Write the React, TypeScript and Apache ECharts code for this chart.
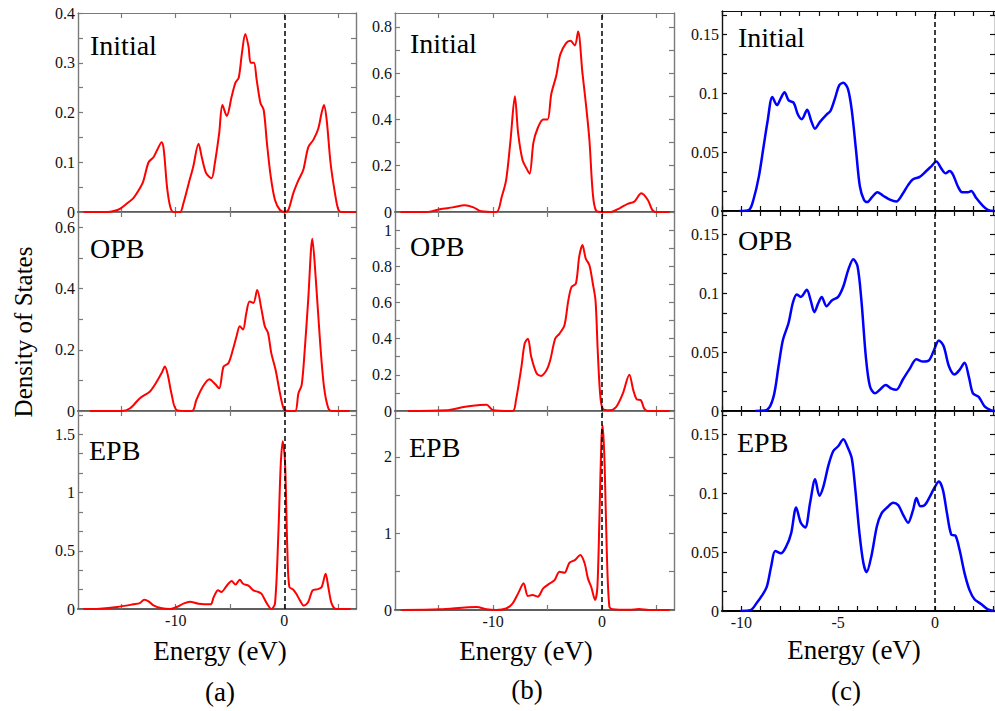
import React, { useEffect, useRef } from "react";
import * as echarts from "echarts";

const FONT = "Liberation Serif";

// ---------- data: [energy (eV), DOS] ----------
const aInitial = [[-18.5,0],[-16.3,0],[-15.7,0.002],[-15.1,0.007],[-14.5,0.017],[-13.9,0.028],[-13.4,0.044],[-13.0,0.061],[-12.5,0.1],[-12.05,0.11],[-11.7,0.125],[-11.3,0.14],[-11.1,0.125],[-10.8,0.05],[-10.5,0.01],[-10.2,0],[-9.6,0],[-9.3,0.017],[-8.8,0.058],[-8.4,0.09],[-7.9,0.137],[-7.6,0.11],[-7.2,0.078],[-6.7,0.068],[-6.4,0.098],[-6.0,0.158],[-5.7,0.215],[-5.3,0.193],[-4.85,0.232],[-4.5,0.26],[-4.2,0.27],[-3.9,0.32],[-3.6,0.358],[-3.3,0.333],[-3.1,0.3],[-2.8,0.3],[-2.55,0.266],[-2.2,0.219],[-1.9,0.205],[-1.6,0.138],[-1.25,0.071],[-0.86,0.024],[-0.4,0.004],[0.06,0],[0.37,0.004],[0.83,0.038],[1.3,0.064],[1.75,0.085],[2.2,0.13],[2.67,0.145],[3.13,0.168],[3.44,0.2],[3.65,0.215],[3.9,0.185],[4.26,0.098],[4.66,0.038],[4.97,0.005],[5.3,0],[6.6,0]];
const aOPB = [[-17.9,0],[-15,0],[-14.2,0.009],[-13.3,0.042],[-12.4,0.063],[-11.8,0.093],[-11.3,0.124],[-11.0,0.145],[-10.7,0.113],[-10.4,0.058],[-9.9,0.003],[-8.5,0],[-8.1,0.036],[-7.5,0.08],[-6.9,0.104],[-6.4,0.089],[-6.0,0.074],[-5.6,0.145],[-5.15,0.156],[-4.7,0.205],[-4.4,0.244],[-4.1,0.277],[-3.8,0.266],[-3.5,0.32],[-3.2,0.358],[-2.85,0.353],[-2.5,0.395],[-2.1,0.331],[-1.8,0.277],[-1.5,0.255],[-1.2,0.189],[-0.8,0.134],[-0.4,0.058],[-0.03,0.005],[0.37,0],[1.0,0],[1.3,0.058],[1.6,0.085],[1.9,0.21],[2.2,0.364],[2.58,0.563],[2.9,0.43],[3.3,0.222],[3.65,0.08],[4.05,0.009],[4.36,0],[6.0,0]];
const aEPB = [[-18.5,0],[-17.0,0.003],[-15.4,0.017],[-13.9,0.04],[-13.3,0.051],[-12.9,0.08],[-12.5,0.066],[-12.05,0.031],[-11.4,0.009],[-10.5,0],[-9.9,0.017],[-9.3,0.046],[-8.7,0.063],[-7.9,0.046],[-6.8,0.04],[-6.5,0.103],[-6.1,0.16],[-5.8,0.146],[-5.3,0.2],[-4.85,0.24],[-4.5,0.21],[-4.1,0.251],[-3.8,0.217],[-3.3,0.2],[-2.85,0.16],[-2.4,0.146],[-2.1,0.131],[-1.6,0.046],[-1.2,0],[-0.86,0.046],[-0.55,0.646],[-0.34,1.22],[-0.15,1.44],[0.06,1.27],[0.28,0.5],[0.46,0.19],[0.83,0.166],[1.1,0.131],[1.44,0.074],[1.8,0.029],[2.2,0.06],[2.6,0.16],[3.1,0.171],[3.44,0.189],[3.8,0.303],[4.05,0.189],[4.36,0.046],[4.8,0],[6.1,0]];

const bInitial = [[-18.5,0],[-16.1,0],[-14.9,0.012],[-13.7,0.02],[-12.6,0.029],[-11.8,0.02],[-11.1,0.003],[-9.7,0],[-9.2,0.067],[-8.8,0.139],[-8.4,0.31],[-8.0,0.5],[-7.7,0.34],[-7.3,0.225],[-6.95,0.19],[-6.65,0.165],[-6.3,0.3],[-5.9,0.363],[-5.4,0.4],[-5.0,0.4],[-4.66,0.51],[-4.2,0.59],[-3.84,0.68],[-3.3,0.73],[-2.9,0.74],[-2.5,0.72],[-2.2,0.78],[-1.8,0.6],[-1.46,0.457],[-1.16,0.31],[-0.85,0.08],[-0.55,0.006],[0.06,0],[0.8,0],[1.6,0.016],[2.35,0.035],[2.96,0.045],[3.6,0.081],[4.2,0.052],[4.6,0.009],[4.94,0],[6.2,0]];
const bOPB = [[-17.8,0],[-14.3,0.004],[-12.7,0.022],[-11.2,0.033],[-10.6,0.035],[-10.0,0.004],[-8.2,0],[-7.9,0.06],[-7.4,0.244],[-7.1,0.373],[-6.8,0.4],[-6.5,0.3],[-6.0,0.207],[-5.6,0.194],[-5.1,0.225],[-4.76,0.28],[-4.3,0.4],[-3.9,0.428],[-3.45,0.474],[-3.1,0.61],[-2.8,0.686],[-2.4,0.705],[-2.1,0.852],[-1.8,0.917],[-1.5,0.843],[-1.16,0.806],[-0.85,0.705],[-0.6,0.61],[-0.4,0.336],[-0.18,0.096],[0.06,0.013],[0.67,0.004],[1.28,0.022],[1.9,0.096],[2.5,0.2],[2.87,0.114],[3.17,0.065],[3.57,0.059],[3.87,0.013],[4.2,0],[6.2,0]];
const bEPB = [[-18.4,0],[-14.9,0.009],[-11.5,0.04],[-10.6,0.009],[-9.7,0],[-8.8,0.02],[-8.2,0.087],[-7.7,0.217],[-7.2,0.348],[-6.8,0.183],[-6.4,0.196],[-5.9,0.174],[-5.4,0.283],[-4.8,0.348],[-4.36,0.39],[-3.9,0.5],[-3.45,0.487],[-3.0,0.617],[-2.5,0.652],[-2.0,0.717],[-1.6,0.61],[-1.3,0.413],[-1.0,0.304],[-0.64,0.13],[-0.43,0.3],[-0.24,1.22],[-0.06,2.22],[0.06,2.41],[0.24,1.87],[0.43,0.78],[0.67,0.043],[0.98,0.009],[2.5,0.002],[3.4,0.013],[4.3,0],[6.2,0]];

const cInitial = [[-10.1,0],[-9.6,0.001],[-9.37,0.01],[-9.1,0.029],[-8.85,0.055],[-8.64,0.077],[-8.4,0.097],[-8.16,0.09],[-7.96,0.096],[-7.77,0.101],[-7.56,0.094],[-7.3,0.092],[-7.08,0.082],[-6.88,0.078],[-6.6,0.086],[-6.4,0.077],[-6.2,0.07],[-5.93,0.076],[-5.6,0.082],[-5.4,0.085],[-5.16,0.096],[-4.94,0.107],[-4.73,0.109],[-4.5,0.104],[-4.3,0.086],[-4.08,0.052],[-3.88,0.021],[-3.67,0.0096],[-3.5,0.0076],[-3.24,0.012],[-2.98,0.016],[-2.68,0.013],[-2.33,0.0096],[-2.0,0.008],[-1.65,0.015],[-1.39,0.022],[-1.13,0.027],[-0.79,0.029],[-0.45,0.034],[-0.19,0.038],[0.07,0.042],[0.33,0.036],[0.55,0.032],[0.75,0.034],[0.93,0.031],[1.18,0.021],[1.4,0.016],[1.7,0.016],[1.87,0.017],[2.13,0.011],[2.44,0.005],[2.73,0.001],[3.07,0]];
const cOPB = [[-9.28,0],[-8.68,0.001],[-8.34,0.012],[-8.08,0.038],[-7.86,0.06],[-7.56,0.075],[-7.34,0.092],[-7.14,0.099],[-6.93,0.097],[-6.62,0.103],[-6.42,0.094],[-6.23,0.084],[-6.02,0.092],[-5.85,0.097],[-5.6,0.089],[-5.33,0.094],[-5.0,0.097],[-4.73,0.106],[-4.48,0.12],[-4.22,0.129],[-4.0,0.123],[-3.8,0.094],[-3.57,0.046],[-3.36,0.021],[-3.1,0.015],[-2.85,0.018],[-2.54,0.022],[-2.25,0.019],[-2.0,0.018],[-1.65,0.027],[-1.3,0.036],[-0.96,0.044],[-0.62,0.042],[-0.31,0.043],[-0.07,0.051],[0.2,0.06],[0.45,0.055],[0.72,0.038],[1.01,0.031],[1.27,0.035],[1.53,0.041],[1.75,0.029],[1.96,0.015],[2.26,0.012],[2.56,0.004],[2.9,0.0006],[3.1,0]];
const cEPB = [[-10.05,0],[-9.54,0.0006],[-9.2,0.007],[-8.94,0.013],[-8.68,0.021],[-8.46,0.038],[-8.25,0.051],[-7.96,0.049],[-7.68,0.055],[-7.43,0.066],[-7.17,0.088],[-6.93,0.075],[-6.7,0.071],[-6.45,0.092],[-6.19,0.112],[-5.97,0.098],[-5.76,0.106],[-5.5,0.124],[-5.25,0.136],[-5.0,0.14],[-4.73,0.146],[-4.53,0.14],[-4.3,0.13],[-4.13,0.106],[-3.9,0.066],[-3.7,0.041],[-3.53,0.033],[-3.28,0.047],[-3.0,0.072],[-2.76,0.083],[-2.47,0.088],[-2.16,0.092],[-1.9,0.09],[-1.65,0.082],[-1.39,0.075],[-1.13,0.086],[-0.96,0.096],[-0.75,0.089],[-0.53,0.09],[-0.27,0.097],[-0.02,0.105],[0.2,0.11],[0.41,0.103],[0.62,0.083],[0.84,0.065],[1.06,0.064],[1.27,0.052],[1.53,0.032],[1.78,0.018],[2.04,0.01],[2.38,0.006],[2.73,0.0014],[3.07,0]];

// ---------- texts & ticks ----------
const panelNames = ["Initial", "OPB", "EPB"];
const columnLabels = ["(a)", "(b)", "(c)"];
const xTitle = "Energy (eV)";
const yTitle = "Density of States";

const abXTicks = [-15, -10, -5, 0, 5];
const abXLabels = [-10, 0];
const cXTicks = [-11, -10, -9, -8, -7, -6, -5, -4, -3, -2, -1, 0, 1, 2, 3];
const cXLabels = [-10, -5, 0];

const aYMax = [0.4, 0.65, 1.7];
const bYMax = [0.86, 1.1, 2.6];
const cYMax = [0.17, 0.17, 0.17];

const aYTicks = [
  [0, 0.05, 0.1, 0.15, 0.2, 0.25, 0.3, 0.35, 0.4],
  [0, 0.1, 0.2, 0.3, 0.4, 0.5, 0.6],
  [0, 0.1667, 0.3333, 0.5, 0.6667, 0.8333, 1, 1.1667, 1.3333, 1.5, 1.6667],
];
const aYLabels = [[0, 0.1, 0.2, 0.3, 0.4], [0, 0.2, 0.4, 0.6], [0, 0.5, 1, 1.5]];
const bYTicks = [
  [0, 0.1, 0.2, 0.3, 0.4, 0.5, 0.6, 0.7, 0.8],
  [0, 0.1, 0.2, 0.3, 0.4, 0.5, 0.6, 0.7, 0.8, 0.9, 1.0],
  [0, 0.5, 1, 1.5, 2, 2.5],
];
const bYLabels = [[0, 0.2, 0.4, 0.6, 0.8], [0, 0.2, 0.4, 0.6, 0.8, 1], [0, 1, 2]];
const cTicksOne = [0, 0.01667, 0.03333, 0.05, 0.06667, 0.08333, 0.1, 0.11667, 0.13333, 0.15, 0.16667];
const cYTicks = [cTicksOne, cTicksOne, cTicksOne];
const cYLabels = [[0, 0.05, 0.1, 0.15], [0, 0.05, 0.1, 0.15], [0, 0.05, 0.1, 0.15]];

// ---------- layout ----------
const columns = [
  {
    data: [aInitial, aOPB, aEPB], yMax: aYMax, yTicks: aYTicks, yLabels: aYLabels,
    left: 78, width: 278, tops: [13, 212, 411], heights: [199, 199, 198],
    xMin: -19, xMax: 6.6, xTicks: abXTicks, xLabels: abXLabels,
    frame: "#7a7a7a", zero: "#5e5e5e", color: "#ff0000", lw: 2,
    names: [[90, 45], [90, 248], [89, 450]], xTitlePos: [220, 651], labelPos: [220, 692],
  },
  {
    data: [bInitial, bOPB, bEPB], yMax: bYMax, yTicks: bYTicks, yLabels: bYLabels,
    left: 395, width: 279, tops: [13, 212, 411], heights: [199, 199, 199],
    xMin: -19, xMax: 6.6, xTicks: abXTicks, xLabels: abXLabels,
    frame: "#7a7a7a", zero: "#5e5e5e", color: "#ff0000", lw: 2,
    names: [[410, 43], [410, 246], [409, 447]], xTitlePos: [526, 651], labelPos: [527, 690],
  },
  {
    data: [cInitial, cOPB, cEPB], yMax: cYMax, yTicks: cYTicks, yLabels: cYLabels,
    left: 722, width: 276, tops: [11, 211, 411], heights: [200, 200, 200],
    xMin: -11, xMax: 3.1, xTicks: cXTicks, xLabels: cXLabels,
    frame: "#111111", zero: "#000000", color: "#0000ff", lw: 2.5,
    names: [[738, 37], [738, 240], [737, 442]], xTitlePos: [854, 650], labelPos: [846, 691],
  },
];

function buildOption() {
  const grid: any[] = [];
  const xAxis: any[] = [];
  const yAxis: any[] = [];
  const series: any[] = [];
  const graphic: any[] = [];
  const labelStyle = { fontFamily: FONT, fontSize: 16, color: "#111" };

  columns.forEach((col, c) => {
    for (let r = 0; r < 3; r++) {
      const i = c * 3 + r;
      grid.push({ left: col.left, top: col.tops[r], width: col.width, height: col.heights[r], show: false });
      const tick = (vals: number[]) => ({
        show: true, inside: true, length: 5, customValues: vals,
        lineStyle: { color: col.frame, width: 1.2 },
      });
      xAxis.push({
        type: "value", gridIndex: i, position: "bottom", min: col.xMin, max: col.xMax,
        axisLine: { show: true, onZero: false, lineStyle: { color: col.zero, width: 2 } },
        axisTick: tick(col.xTicks),
        axisLabel: { show: r === 2, customValues: col.xLabels, margin: 3, ...labelStyle },
        splitLine: { show: false },
      });
      xAxis.push({
        type: "value", gridIndex: i, position: "top", min: col.xMin, max: col.xMax,
        axisLine: { show: true, onZero: false, lineStyle: { color: col.frame, width: 1.2 } },
        axisTick: tick(col.xTicks),
        axisLabel: { show: false },
        splitLine: { show: false },
      });
      yAxis.push({
        type: "value", gridIndex: i, position: "left", min: 0, max: col.yMax[r],
        axisLine: { show: true, onZero: false, lineStyle: { color: col.frame, width: 1.4 } },
        axisTick: tick(col.yTicks[r]),
        axisLabel: { show: true, customValues: col.yLabels[r], margin: 3, ...labelStyle },
        splitLine: { show: false },
      });
      yAxis.push({
        type: "value", gridIndex: i, position: "right", min: 0, max: col.yMax[r],
        axisLine: { show: true, onZero: false, lineStyle: { color: col.frame, width: 1.4 } },
        axisTick: tick(col.yTicks[r]),
        axisLabel: { show: false },
        splitLine: { show: false },
      });
      series.push({
        type: "line", xAxisIndex: 2 * i, yAxisIndex: 2 * i, data: col.data[r],
        symbol: "none", showSymbol: false, smooth: 0.3, z: 3,
        lineStyle: { color: col.color, width: col.lw },
        markLine: {
          silent: true, symbol: ["none", "none"], label: { show: false },
          lineStyle: { color: "#000", type: [5, 3], width: 1.5 },
          data: [{ xAxis: 0 }],
        },
      });
      graphic.push({
        type: "text", x: col.names[r][0], y: col.names[r][1],
        style: { text: panelNames[r], fontFamily: FONT, fontSize: 28, fill: "#000", textAlign: "left", textVerticalAlign: "middle" },
      });
    }
    graphic.push({
      type: "text", x: col.xTitlePos[0], y: col.xTitlePos[1],
      style: { text: xTitle, fontFamily: FONT, fontSize: 27, fill: "#000", textAlign: "center", textVerticalAlign: "middle" },
    });
    graphic.push({
      type: "text", x: col.labelPos[0], y: col.labelPos[1],
      style: { text: columnLabels[c], fontFamily: FONT, fontSize: 27, fill: "#000", textAlign: "center", textVerticalAlign: "middle" },
    });
  });
  graphic.push({
    type: "text", x: 23, y: 332, rotation: Math.PI / 2,
    style: { text: yTitle, fontFamily: FONT, fontSize: 25, fill: "#000", textAlign: "center", textVerticalAlign: "middle" },
  });

  return {
    animation: false,
    backgroundColor: "#ffffff",
    textStyle: { fontFamily: FONT },
    grid, xAxis, yAxis, series, graphic,
  };
}

export default function App() {
  const ref = useRef<HTMLDivElement>(null);
  useEffect(() => {
    if (!ref.current) return;
    const chart = echarts.init(ref.current, undefined, { renderer: "svg" });
    chart.setOption(buildOption() as any);
    return () => chart.dispose();
  }, []);
  return (
    <div
      ref={ref}
      style={{ position: "absolute", left: 0, top: 0, width: 995, height: 711, background: "#fff" }}
    />
  );
}
